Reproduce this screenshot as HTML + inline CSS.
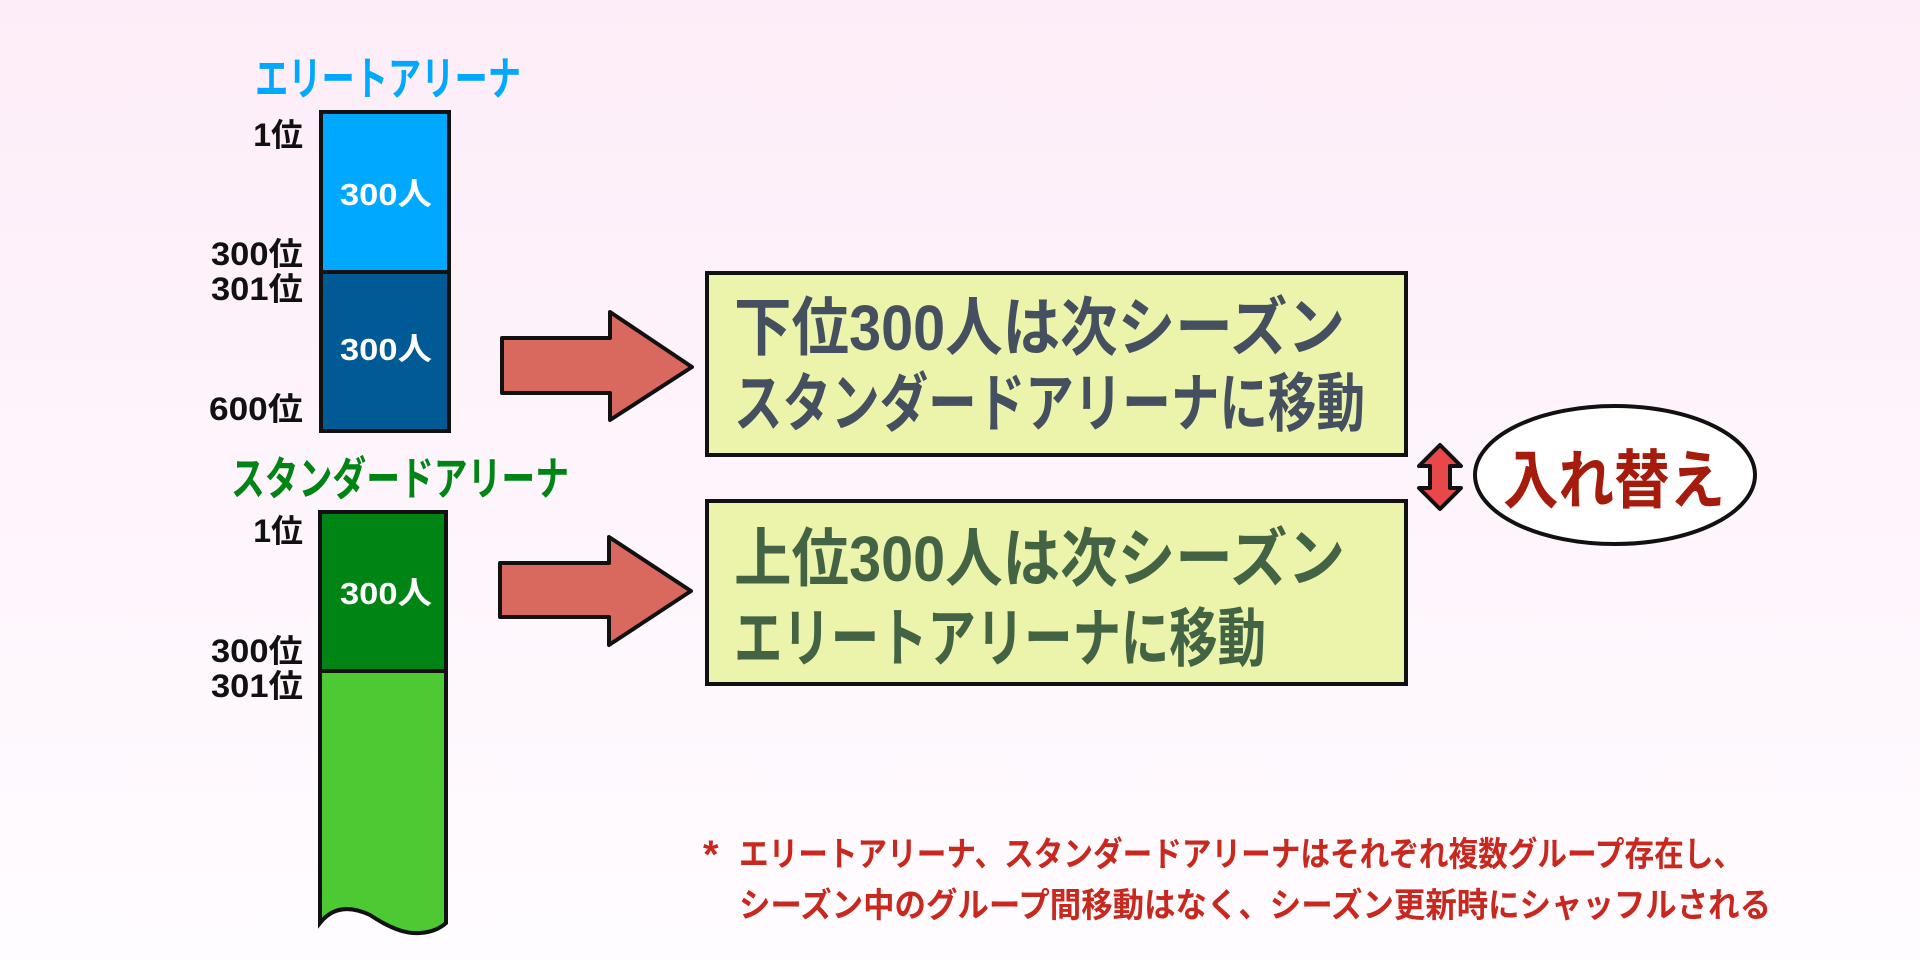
<!DOCTYPE html>
<html><head><meta charset="utf-8"><style>
html,body{margin:0;padding:0;width:1920px;height:960px;overflow:hidden}
text{font-family:"Liberation Sans","Noto Sans CJK JP",sans-serif;font-weight:bold}
</style></head><body>
<svg width="1920" height="960" viewBox="0 0 1920 960" xmlns="http://www.w3.org/2000/svg">
<defs><linearGradient id="bg" x1="0" y1="0" x2="0" y2="1"><stop offset="0" stop-color="#fdedf8"/><stop offset="1" stop-color="#fffcff"/></linearGradient></defs>
<rect width="1920" height="960" fill="url(#bg)"/>

<text x="255" y="95" font-size="46" fill="#00a8ff" textLength="266" lengthAdjust="spacingAndGlyphs">エリートアリーナ</text>
<rect x="321" y="112" width="128" height="160" fill="#00a8ff" stroke="#111" stroke-width="4"/>
<rect x="321" y="272" width="128" height="159" fill="#005a96" stroke="#111" stroke-width="4"/>
<g font-size="31" fill="#fff"><text x="340" y="205" textLength="92" lengthAdjust="spacingAndGlyphs">300人</text><text x="340" y="360" textLength="92" lengthAdjust="spacingAndGlyphs">300人</text></g>
<g font-size="32" fill="#111" text-anchor="end">
<text x="303" y="146">1位</text><text x="303" y="265" textLength="92" lengthAdjust="spacingAndGlyphs">300位</text><text x="303" y="300" textLength="92" lengthAdjust="spacingAndGlyphs">301位</text><text x="303" y="420" textLength="94" lengthAdjust="spacingAndGlyphs">600位</text>
<text x="303" y="542">1位</text><text x="303" y="662" textLength="92" lengthAdjust="spacingAndGlyphs">300位</text><text x="303" y="697" textLength="92" lengthAdjust="spacingAndGlyphs">301位</text></g>

<text x="231" y="495" font-size="46" fill="#008515" textLength="338" lengthAdjust="spacingAndGlyphs">スタンダードアリーナ</text>
<path d="M320 671 V923 Q338 900 370 915 Q400 935 420 933 Q436 932 446 923 V671 Z" fill="#4cc933" stroke="#111" stroke-width="4"/>
<rect x="320" y="512" width="126" height="159" fill="#008515" stroke="#111" stroke-width="4"/>
<text x="340" y="604" font-size="31" fill="#fff" textLength="92" lengthAdjust="spacingAndGlyphs">300人</text>

<path d="M502 338 H610 V312 L692 367 L610 420 V393 H502 Z" fill="#d9685f" stroke="#111" stroke-width="4" stroke-linejoin="round"/>
<path d="M500 563 H609 V537 L691 591 L609 645 V617 H500 Z" fill="#d9685f" stroke="#111" stroke-width="4" stroke-linejoin="round"/>

<rect x="707" y="273" width="699" height="182" fill="#ecf4ac" stroke="#111" stroke-width="4"/>
<rect x="707" y="501" width="699" height="183" fill="#ecf4ac" stroke="#111" stroke-width="4"/>
<g font-size="64" fill="#44505f">
<text x="734" y="350" textLength="611" lengthAdjust="spacingAndGlyphs">下位300人は次シーズン</text>
<text x="734" y="426" textLength="631" lengthAdjust="spacingAndGlyphs">スタンダードアリーナに移動</text></g>
<g font-size="64" fill="#436444">
<text x="734" y="581" textLength="611" lengthAdjust="spacingAndGlyphs">上位300人は次シーズン</text>
<text x="734" y="661" textLength="532" lengthAdjust="spacingAndGlyphs">エリートアリーナに移動</text></g>

<path d="M1440 445 L1461 466 H1450 V488 H1461 L1440 509 L1419 488 H1430 V466 H1419 Z" fill="#e8484a" stroke="#111" stroke-width="4" stroke-linejoin="round"/>
<ellipse cx="1615" cy="475" rx="140" ry="69" fill="#fff" stroke="#111" stroke-width="4"/>
<text x="1503" y="503" font-size="64" fill="#a51c0c" textLength="222" lengthAdjust="spacingAndGlyphs">入れ替え</text>

<g font-size="34" fill="#c8281e">
<text x="703" y="868" font-size="40">*</text>
<text x="739" y="866" textLength="1004" lengthAdjust="spacingAndGlyphs">エリートアリーナ、スタンダードアリーナはそれぞれ複数グループ存在し、</text>
<text x="739" y="917" textLength="1032" lengthAdjust="spacingAndGlyphs">シーズン中のグループ間移動はなく、シーズン更新時にシャッフルされる</text></g>
</svg>
</body></html>
